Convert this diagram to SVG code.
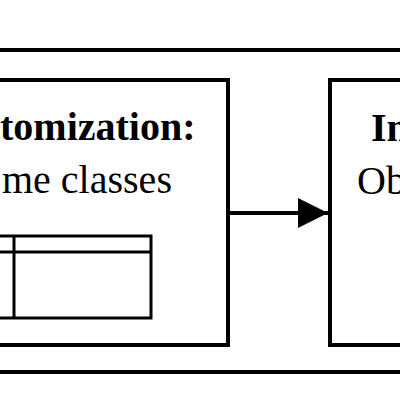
<svg xmlns="http://www.w3.org/2000/svg" width="400" height="400" viewBox="0 0 400 400">
<defs>
<style>
.box{fill:none;stroke:#000;stroke-width:4}
.tbl{fill:none;stroke:#000;stroke-width:3}
.b{font-family:"Liberation Serif","Times New Roman",serif;font-weight:bold;font-size:40px;fill:#000}
.r{font-family:"Liberation Serif","Times New Roman",serif;font-size:40px;fill:#000}
</style>
<marker id="ah" viewBox="0 0 30 30" refX="30" refY="15" markerWidth="30" markerHeight="30" markerUnits="userSpaceOnUse" orient="auto">
<path d="M0,0 L30,15 L0,30 Z" fill="#000"/>
</marker>
</defs>
<rect width="400" height="400" fill="#fff"/>
<g id="outer">
<rect class="box" x="-100" y="50" width="600" height="322"/>
</g>
<g id="customization">
<rect class="box" x="-100" y="80" width="328" height="265"/>
<text class="b" x="0" y="140">tomization:</text>
<text class="r" x="2" y="193">me classes</text>
<g id="table">
<rect class="tbl" x="-100" y="236" width="251" height="82"/>
<line class="tbl" x1="-100" y1="252" x2="151" y2="252"/>
<line class="tbl" x1="14" y1="236" x2="14" y2="318"/>
</g>
</g>
<g id="next">
<rect class="box" x="330" y="80" width="200" height="265"/>
<text class="b" x="371" y="141">In</text>
<text class="r" x="357" y="194">Ob</text>
</g>
<g id="connectors">
<line x1="228" y1="213" x2="328" y2="213" stroke="#000" stroke-width="4" marker-end="url(#ah)"/>
</g>
</svg>
